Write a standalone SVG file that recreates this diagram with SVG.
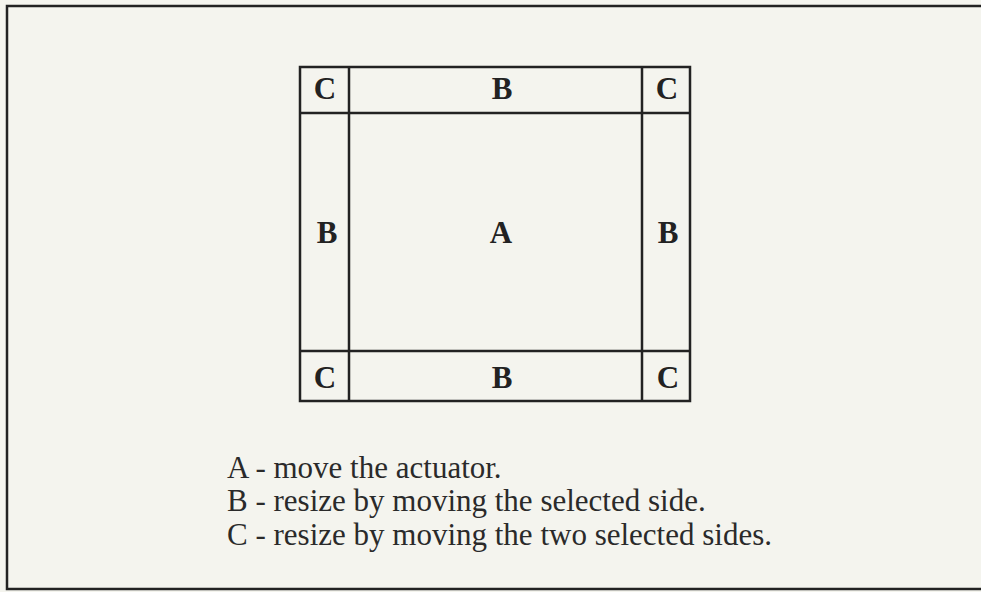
<svg xmlns="http://www.w3.org/2000/svg" width="981" height="592" viewBox="0 0 981 592">
<style>
.ln{stroke:#222;stroke-width:2.5;fill:none}
.lbl{font-family:"Liberation Serif","Times New Roman",serif;font-weight:bold;font-size:31px;fill:#222;text-anchor:middle}
.leg{font-family:"Liberation Serif","Times New Roman",serif;font-size:31px;fill:#2a2a2a}
</style>
<rect x="0" y="0" width="981" height="592" fill="#f4f4ee"/>
<g id="frame"><path class="ln" d="M981 6 H7 V589 H981"/></g>
<g id="connectors">
<rect class="ln" x="300" y="67" width="390" height="334"/>
<line class="ln" x1="349" y1="67" x2="349" y2="401"/>
<line class="ln" x1="642" y1="67" x2="642" y2="401"/>
<line class="ln" x1="300" y1="113" x2="690" y2="113"/>
<line class="ln" x1="300" y1="351" x2="690" y2="351"/>
</g>
<g id="c-tl"><text class="lbl" x="325" y="99">C</text></g>
<g id="b-top"><text class="lbl" x="502" y="99">B</text></g>
<g id="c-tr"><text class="lbl" x="667" y="99">C</text></g>
<g id="b-left"><text class="lbl" x="327" y="243">B</text></g>
<g id="a-center"><text class="lbl" x="501" y="243">A</text></g>
<g id="b-right"><text class="lbl" x="668" y="243">B</text></g>
<g id="c-bl"><text class="lbl" x="325" y="388">C</text></g>
<g id="b-bottom"><text class="lbl" x="502" y="388">B</text></g>
<g id="c-br"><text class="lbl" x="668" y="388">C</text></g>
<g id="legend">
<text class="leg" x="227" y="478">A - move the actuator.</text>
<text class="leg" x="227" y="511">B - resize by moving the selected side.</text>
<text class="leg" x="227" y="545">C - resize by moving the two selected sides.</text>
</g>
</svg>
